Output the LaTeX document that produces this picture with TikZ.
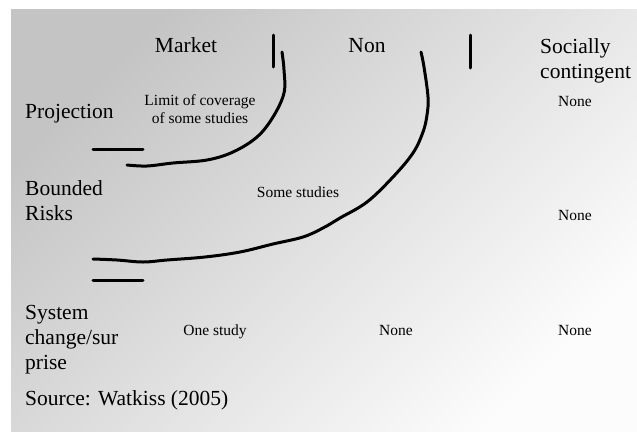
\documentclass[tikz,border=0pt]{standalone}
\usepackage{fontspec}
\setmainfont{LiberationSerif}[Extension=.ttf, UprightFont=*-Regular, BoldFont=*-Bold, ItalicFont=*-Italic]
\begin{document}
\begin{tikzpicture}[x=1pt,y=-1pt,
  big/.style={font=\rmfamily\fontsize{21.5}{25}\selectfont, inner sep=0pt},
  small/.style={font=\rmfamily\fontsize{15.5}{18}\selectfont, inner sep=0pt},
  stroke/.style={line width=3pt, line cap=round, line join=round}]
\useasboundingbox (0,0) rectangle (637,432);
\fill[white] (0,0) rectangle (637,432);
\shade[top color={rgb,255:red,196;green,196;blue,196}, bottom color={rgb,255:red,252;green,252;blue,252}, shading angle=45]
  (11,9) rectangle (637,431);
% column headers
\node[big, anchor=base] (market) at (186,52) {Market};
\node[big, anchor=base] (non) at (367,52) {Non};
\node[big, anchor=base west] (soc1) at (540,53) {Socially};
\node[big, anchor=base west] (soc2) at (540,78) {contingent};
% row headers
\node[big, anchor=base west] (proj) at (25,118) {Projection};
\node[big, anchor=base west] (bound1) at (25,195) {Bounded};
\node[big, anchor=base west] (bound2) at (25,220) {Risks};
\node[big, anchor=base west] (sys1) at (25,319) {System};
\node[big, anchor=base west] (sys2) at (25,344) {change/sur};
\node[big, anchor=base west] (sys3) at (25,369) {prise};
\node[big, anchor=base west] (src) at (25,405) {Source: Watkiss (2005)};
% cells
\node[small, anchor=base] (lim1) at (200,105) {Limit of coverage};
\node[small, anchor=base] (lim2) at (200,123) {of some studies};
\node[small, anchor=base] (some) at (298,197) {Some studies};
\node[small, anchor=base] (none1) at (575,106) {None};
\node[small, anchor=base] (none2) at (575,220) {None};
\node[small, anchor=base] (one) at (215,335) {One study};
\node[small, anchor=base] (none3) at (396,335) {None};
\node[small, anchor=base] (none4) at (575,335) {None};
% bars
\draw[stroke] (273,35) -- (273,67);
\draw[stroke] (470,35) -- (470,68);
\draw[stroke] (93,149) -- (143,149);
\draw[stroke] (93,280) -- (143,280);
% curves
\draw[stroke] plot[smooth, tension=0.6] coordinates {(282,52) (284,70) (284,93) (273,117) (257,137) (233,152) (207,160) (173,163) (147,166) (127,165)};
\draw[stroke] plot[smooth, tension=0.6] coordinates {(421,52) (424,67) (428,97) (427,115) (423,132) (413,153) (393,177) (367,202) (340,218) (323,228) (303,237) (273,244) (240,252) (205,257) (167,260) (143,262) (117,260) (93,259)};
\end{tikzpicture}
\end{document}
